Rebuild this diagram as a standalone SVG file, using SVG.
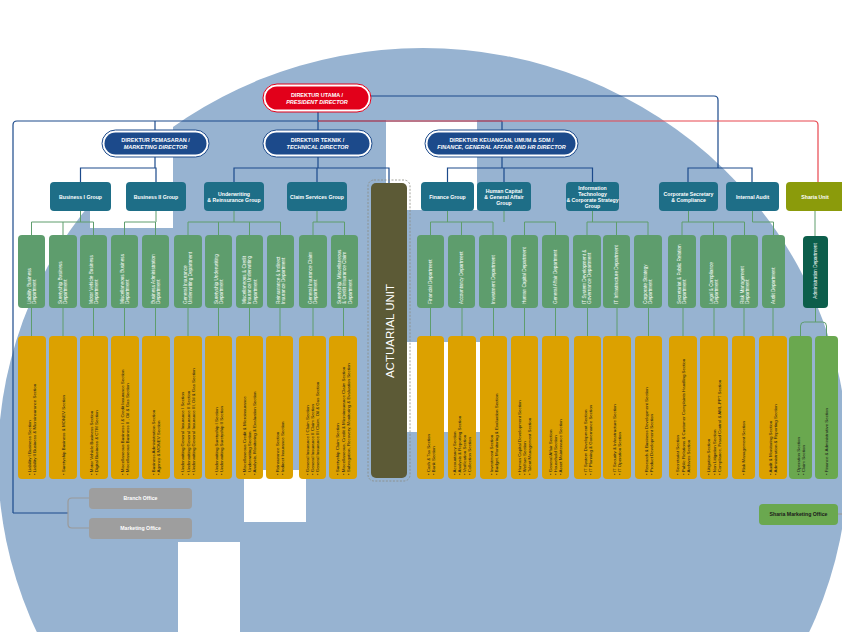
<svg xmlns="http://www.w3.org/2000/svg" width="842" height="632" viewBox="0 0 842 632">
<style>
.t{font-family:"Liberation Sans",Arial,sans-serif}
.dir{fill:#1c4a8b}
.ring{fill:#fff;stroke:#1c4a8b;stroke-width:1}
.red{fill:#e2001a}
.redring{fill:#fff;stroke:#e2001a;stroke-width:1}
.grp{fill:#1e6e87}
.dept{fill:#5e9d6d}
.sec{fill:#dca100}
.ssec{fill:#6aa84f}
.dtxt{font-family:"Liberation Sans",Arial,sans-serif;font-size:5.5px;font-weight:bold;fill:#fff;text-anchor:middle}
.gtxt{font-family:"Liberation Sans",Arial,sans-serif;font-size:5.2px;font-weight:bold;fill:#fff;text-anchor:middle}
.ptxt{font-family:"Liberation Sans",Arial,sans-serif;font-size:4.7px;fill:#fff}
.stxt{font-family:"Liberation Sans",Arial,sans-serif;font-size:4.4px;fill:#1a1a1a}
.blue{fill:none;stroke:#1c4a8b;stroke-width:1.2}
.redl{fill:none;stroke:#e8474f;stroke-width:1.2}
.grn{fill:none;stroke:#5e9d6d;stroke-width:1}
.gry{fill:none;stroke:#9a9a9a;stroke-width:1.2}
</style>
<rect width="842" height="632" fill="#fff"/>
<g id="background">
<ellipse cx="423" cy="460" rx="425" ry="412" fill="#97b3d1"/>
<rect x="90" y="125" width="83" height="103" fill="#fff"/>
<rect x="386" y="120" width="91" height="90" fill="#fff"/>
<rect x="395" y="342" width="85" height="90" fill="#fff"/>
<rect x="244" y="470" width="62" height="52" fill="#fff"/>
<rect x="178" y="542" width="62" height="90" fill="#fff"/>
</g>
<g id="connectors">
<path class="blue" d="M318 112V130M13 513V125Q13 121 17 121H502M155 121V130M502 121V130M13 513H68"/>
<path class="blue" d="M371 96H714Q718 96 718 100V168M688 182V168H752V182"/>
<path class="blue" d="M155 157V168M80.5 182V168H156V182"/>
<path class="blue" d="M318 157V168M234 182V168H389V183M317 168V182"/>
<path class="blue" d="M502 157V168M447.5 182V168H592.5V182M504 168V182"/>
<path class="redl" d="M318 121H814Q818 121 818 125V182"/>
<path class="grn" d="M80.5 211V222M31.5 235V222H93.5V235M63 222V235"/>
<path class="grn" d="M156 211V222M124.5 235V222H155.5V235"/>
<path class="grn" d="M234 211V222M188 235V222H280.5V235M218.5 222V235M249.5 222V235"/>
<path class="grn" d="M317 211V222M313 235V222H344.5V235"/>
<path class="grn" d="M447.5 211V222M430.5 235V222H493V235M461.5 222V235"/>
<path class="grn" d="M504 211V222M524.5 235V222H555.5V235"/>
<path class="grn" d="M592.5 211V222M587 235V222H648V235M616.5 222V235"/>
<path class="grn" d="M688.5 211V222M682 235V222H744.5V235M713.5 222V235"/>
<path class="grn" d="M752.5 211V222H773.5V235"/>
<path class="grn" d="M815 211V236"/>
<path class="grn" d="M31.5 308V336M63 308V336M93.5 308V336M124.5 308V336M155.5 308V336M188 308V336M218.5 308V336M249.5 308V336M280 308V336M313 308V336M343.5 308V336M430.5 308V336M462 308V336M493.5 308V336M524.5 308V336M555.5 308V336M587.5 308V336M617 308V336M648.5 308V336M683 308V336M714 308V336M744 308V336M773 308V336"/>
<path class="grn" d="M815.5 308V322M800.5 336V326Q800.5 322 804.5 322H822.5Q826.5 322 826.5 326V336"/>
<path class="gry" d="M89 498H72Q68 498 68 502V524Q68 528 72 528H89"/>
<path class="gry" d="M838 514H842"/>
</g>
<g id="president">
<rect class="redring" x="263" y="84" width="108" height="28" rx="14"/>
<rect class="red" x="265.5" y="86.5" width="103" height="23" rx="11.5"/>
<text class="dtxt" x="317" y="96.5">DIREKTUR UTAMA /</text>
<text class="dtxt" x="317" y="103.5" font-style="italic">PRESIDENT DIRECTOR</text>
</g>
<g id="marketing-director">
<rect class="ring" x="102" y="130" width="107" height="27" rx="13.5"/>
<rect class="dir" x="104.5" y="132.5" width="102" height="22" rx="11"/>
<text class="dtxt" x="155.5" y="142">DIREKTUR PEMASARAN /</text>
<text class="dtxt" x="155.5" y="149" font-style="italic">MARKETING DIRECTOR</text>
</g>
<g id="technical-director">
<rect class="ring" x="263" y="130" width="109" height="27" rx="13.5"/>
<rect class="dir" x="265.5" y="132.5" width="104" height="22" rx="11"/>
<text class="dtxt" x="317.5" y="142">DIREKTUR TEKNIK /</text>
<text class="dtxt" x="317.5" y="149" font-style="italic">TECHNICAL DIRECTOR</text>
</g>
<g id="finance-director">
<rect class="ring" x="425" y="130" width="153" height="27" rx="13.5"/>
<rect class="dir" x="427.5" y="132.5" width="148" height="22" rx="11"/>
<text class="dtxt" x="501.5" y="142">DIREKTUR KEUANGAN, UMUM &amp; SDM /</text>
<text class="dtxt" x="501.5" y="149" font-style="italic">FINANCE, GENERAL AFFAIR AND HR DIRECTOR</text>
</g>
<g id="groups">
<g id="g-business1"><rect class="grp" x="50" y="182" width="61" height="29" rx="4"/><text class="gtxt" x="80.5" y="198.5">Business I Group</text></g>
<g id="g-business2"><rect class="grp" x="126" y="182" width="60" height="29" rx="4"/><text class="gtxt" x="156" y="198.5">Business II Group</text></g>
<g id="g-underwriting"><rect class="grp" x="204" y="182" width="60" height="29" rx="4"/><text class="gtxt" x="234" y="195.5">Underwriting<tspan x="234" dy="6">&amp; Reinsurance Group</tspan></text></g>
<g id="g-claim"><rect class="grp" x="287" y="182" width="60" height="29" rx="4"/><text class="gtxt" x="317" y="198.5">Claim Services Group</text></g>
<g id="g-finance"><rect class="grp" x="421" y="182" width="53" height="29" rx="4"/><text class="gtxt" x="447.5" y="198.5">Finance Group</text></g>
<g id="g-hc"><rect class="grp" x="477" y="182" width="54" height="29" rx="4"/><text class="gtxt" x="504" y="192.5">Human Capital<tspan x="504" dy="6">&amp; General Affair</tspan><tspan x="504" dy="6">Group</tspan></text></g>
<g id="g-it"><rect class="grp" x="566" y="182" width="53" height="29" rx="4"/><text class="gtxt" x="592.5" y="189.5">Information<tspan x="592.5" dy="6">Technology</tspan><tspan x="592.5" dy="6">&amp; Corporate Strategy</tspan><tspan x="592.5" dy="6">Group</tspan></text></g>
<g id="g-corpsec"><rect class="grp" x="659" y="182" width="59" height="29" rx="4"/><text class="gtxt" x="688.5" y="195.5">Corporate Secretary<tspan x="688.5" dy="6">&amp; Compliance</tspan></text></g>
<g id="g-audit"><rect class="grp" x="726" y="182" width="53" height="29" rx="4"/><text class="gtxt" x="752.5" y="198.5">Internal Audit</text></g>
<g id="g-sharia"><rect x="786" y="182" width="62" height="29" rx="4" fill="#8b9b0b"/><text class="gtxt" x="815" y="198.5">Sharia Unit</text></g>
</g>
<g id="actuarial">
<rect x="368" y="180" width="42" height="301" rx="6" fill="none" stroke="#8a8a80" stroke-width="0.8" stroke-dasharray="2 1.5"/>
<rect x="371" y="183" width="36" height="295" rx="5" fill="#5c5a36"/>
<text class="t" transform="translate(393.5,331) rotate(-90)" font-size="11.5" fill="#fff" text-anchor="middle">ACTUARIAL UNIT</text>
</g>
<g id="departments">
<g><rect class="dept" x="18" y="235" width="27" height="73" rx="4"/><text class="ptxt" transform="translate(31.5,304) rotate(-90)"><tspan x="0" y="-1">Liability Business</tspan><tspan x="0" y="4.4">Department</tspan></text></g>
<g><rect class="dept" x="49" y="235" width="28" height="73" rx="4"/><text class="ptxt" transform="translate(63,304) rotate(-90)"><tspan x="0" y="-1">Suretyship Business</tspan><tspan x="0" y="4.4">Department</tspan></text></g>
<g><rect class="dept" x="80" y="235" width="27" height="73" rx="4"/><text class="ptxt" transform="translate(93.5,304) rotate(-90)"><tspan x="0" y="-1">Motor Vehicle Business</tspan><tspan x="0" y="4.4">Department</tspan></text></g>
<g><rect class="dept" x="111" y="235" width="27" height="73" rx="4"/><text class="ptxt" transform="translate(124.5,304) rotate(-90)"><tspan x="0" y="-1">Miscellaneous Business</tspan><tspan x="0" y="4.4">Department</tspan></text></g>
<g><rect class="dept" x="142" y="235" width="27" height="73" rx="4"/><text class="ptxt" transform="translate(155.5,304) rotate(-90)"><tspan x="0" y="-1">Business Administration</tspan><tspan x="0" y="4.4">Department</tspan></text></g>
<g><rect class="dept" x="174" y="235" width="28" height="73" rx="4"/><text class="ptxt" transform="translate(188,304) rotate(-90)"><tspan x="0" y="-1">General Insurance</tspan><tspan x="0" y="4.4">Underwriting Department</tspan></text></g>
<g><rect class="dept" x="205" y="235" width="27" height="73" rx="4"/><text class="ptxt" transform="translate(218.5,304) rotate(-90)"><tspan x="0" y="-1">Suretyship Underwriting</tspan><tspan x="0" y="4.4">Department</tspan></text></g>
<g><rect class="dept" x="236" y="235" width="27" height="73" rx="4"/><text class="ptxt" transform="translate(249.5,304) rotate(-90)"><tspan x="0" y="-3.7">Miscellaneous &amp; Credit</tspan><tspan x="0" y="1.7">Insurance Underwriting</tspan><tspan x="0" y="7.1">Department</tspan></text></g>
<g><rect class="dept" x="267" y="235" width="27" height="73" rx="4"/><text class="ptxt" transform="translate(280.5,304) rotate(-90)"><tspan x="0" y="-1">Reinsurance &amp; Indirect</tspan><tspan x="0" y="4.4">Insurance Department</tspan></text></g>
<g><rect class="dept" x="299" y="235" width="28" height="73" rx="4"/><text class="ptxt" transform="translate(313,304) rotate(-90)"><tspan x="0" y="-1">General Insurance Claim</tspan><tspan x="0" y="4.4">Department</tspan></text></g>
<g><rect class="dept" x="331" y="235" width="27" height="73" rx="4"/><text class="ptxt" transform="translate(344.5,304) rotate(-90)"><tspan x="0" y="-3.7">Suretyship, Miscellaneous</tspan><tspan x="0" y="1.7">&amp; Credit Insurance Claim</tspan><tspan x="0" y="7.1">Department</tspan></text></g>
<g><rect class="dept" x="417" y="235" width="27" height="73" rx="4"/><text class="ptxt" transform="translate(430.5,304) rotate(-90)"><tspan x="0" y="1.7">Financial Department</tspan></text></g>
<g><rect class="dept" x="448" y="235" width="27" height="73" rx="4"/><text class="ptxt" transform="translate(461.5,304) rotate(-90)"><tspan x="0" y="1.7">Accountancy Department</tspan></text></g>
<g><rect class="dept" x="479" y="235" width="28" height="73" rx="4"/><text class="ptxt" transform="translate(493,304) rotate(-90)"><tspan x="0" y="1.7">Investment Department</tspan></text></g>
<g><rect class="dept" x="511" y="235" width="27" height="73" rx="4"/><text class="ptxt" transform="translate(524.5,304) rotate(-90)"><tspan x="0" y="1.7">Human Capital Department</tspan></text></g>
<g><rect class="dept" x="542" y="235" width="27" height="73" rx="4"/><text class="ptxt" transform="translate(555.5,304) rotate(-90)"><tspan x="0" y="1.7">General Affair Department</tspan></text></g>
<g><rect class="dept" x="573" y="235" width="28" height="73" rx="4"/><text class="ptxt" transform="translate(587,304) rotate(-90)"><tspan x="0" y="-1">IT System Development &amp;</tspan><tspan x="0" y="4.4">Governance Department</tspan></text></g>
<g><rect class="dept" x="603" y="235" width="27" height="73" rx="4"/><text class="ptxt" transform="translate(616.5,304) rotate(-90)"><tspan x="0" y="1.7">IT Infrastructure Department</tspan></text></g>
<g><rect class="dept" x="634" y="235" width="28" height="73" rx="4"/><text class="ptxt" transform="translate(648,304) rotate(-90)"><tspan x="0" y="-1">Corporate Strategy</tspan><tspan x="0" y="4.4">Department</tspan></text></g>
<g><rect class="dept" x="668" y="235" width="28" height="73" rx="4"/><text class="ptxt" transform="translate(682,304) rotate(-90)" font-size="4.2"><tspan x="0" y="-1">Secretariat &amp; Public Relation</tspan><tspan x="0" y="4.4">Department</tspan></text></g>
<g><rect class="dept" x="700" y="235" width="27" height="73" rx="4"/><text class="ptxt" transform="translate(713.5,304) rotate(-90)"><tspan x="0" y="-1">Legal &amp; Compliance</tspan><tspan x="0" y="4.4">Department</tspan></text></g>
<g><rect class="dept" x="731" y="235" width="27" height="73" rx="4"/><text class="ptxt" transform="translate(744.5,304) rotate(-90)"><tspan x="0" y="-1">Risk Management</tspan><tspan x="0" y="4.4">Department</tspan></text></g>
<g><rect class="dept" x="762" y="235" width="23" height="73" rx="4"/><text class="ptxt" transform="translate(773.5,304) rotate(-90)"><tspan x="0" y="1.7">Audit Department</tspan></text></g>
<g><rect x="803" y="236" width="25" height="72" rx="4" fill="#0c5e4b"/><text class="ptxt" transform="translate(815.5,271) rotate(-90)" text-anchor="middle"><tspan x="0" y="1.7">Administration Department</tspan></text></g>
</g>
<g id="sections">
<g><rect class="sec" x="18" y="336" width="28" height="143" rx="4"/><text class="stxt" transform="translate(32,475) rotate(-90)"><tspan x="0" y="-1">• Liability I Business Section</tspan><tspan x="0" y="4.2">• Liability II Business &amp; Microinsurance Section</tspan></text></g>
<g><rect class="sec" x="49" y="336" width="28" height="143" rx="4"/><text class="stxt" transform="translate(63,475) rotate(-90)"><tspan x="0" y="1.6">• Suretyship Business &amp; MONEV Section</tspan></text></g>
<g><rect class="sec" x="80" y="336" width="28" height="143" rx="4"/><text class="stxt" transform="translate(94,475) rotate(-90)"><tspan x="0" y="-1">• Motor Vehicle Business Section</tspan><tspan x="0" y="4.2">• Digital Business &amp; CTM Section</tspan></text></g>
<g><rect class="sec" x="111" y="336" width="28" height="143" rx="4"/><text class="stxt" transform="translate(125,475) rotate(-90)"><tspan x="0" y="-1">• Miscellaneous Business I &amp; Credit Insurance Section</tspan><tspan x="0" y="4.2">• Miscellaneous Business II , Oil &amp; Gas Section</tspan></text></g>
<g><rect class="sec" x="142" y="336" width="28" height="143" rx="4"/><text class="stxt" transform="translate(156,475) rotate(-90)"><tspan x="0" y="-1">• Business Administration Section</tspan><tspan x="0" y="4.2">• Agency &amp; MONEV Section</tspan></text></g>
<g><rect class="sec" x="174" y="336" width="28" height="143" rx="4"/><text class="stxt" transform="translate(188,475) rotate(-90)"><tspan x="0" y="-3.6">• Underwriting General Insurance I Section</tspan><tspan x="0" y="1.6">• Underwriting General Insurance II Section</tspan><tspan x="0" y="6.8">• Underwriting General Insurance III, Oil &amp; Gas Section</tspan></text></g>
<g><rect class="sec" x="205" y="336" width="27" height="143" rx="4"/><text class="stxt" transform="translate(218.5,475) rotate(-90)"><tspan x="0" y="-1">• Underwriting Suretyship I Section</tspan><tspan x="0" y="4.2">• Underwriting Suretyship II Section</tspan></text></g>
<g><rect class="sec" x="236" y="336" width="27" height="143" rx="4"/><text class="stxt" transform="translate(249.5,475) rotate(-90)"><tspan x="0" y="-3.6">• Miscellaneous Credit &amp; Microinsurance</tspan><tspan x="3" y="1.6">Underwriting Section</tspan><tspan x="0" y="6.8">• Analysis, Monitoring &amp; Evaluation Section</tspan></text></g>
<g><rect class="sec" x="266" y="336" width="27" height="143" rx="4"/><text class="stxt" transform="translate(279.5,475) rotate(-90)"><tspan x="0" y="-1">• Reinsurance Section</tspan><tspan x="0" y="4.2">• Indirect Insurance Section</tspan></text></g>
<g><rect class="sec" x="299" y="336" width="27" height="143" rx="4"/><text class="stxt" transform="translate(312.5,475) rotate(-90)"><tspan x="0" y="-3.6">• General Insurance I Claim Section</tspan><tspan x="0" y="1.6">• General Insurance II Claim Section</tspan><tspan x="0" y="6.8">• General Insurance III Claim, Oil &amp; Gas Section</tspan></text></g>
<g><rect class="sec" x="329" y="336" width="28" height="143" rx="4"/><text class="stxt" transform="translate(343,475) rotate(-90)"><tspan x="0" y="-3.6">• Suretyship Claim Section</tspan><tspan x="0" y="1.6">• Miscellaneous, Credit &amp; Microinsurance Claim Section</tspan><tspan x="0" y="6.8">• Subrogation, Recovery, Monitoring &amp; Evaluation Section</tspan></text></g>
<g><rect class="sec" x="417" y="336" width="27" height="143" rx="4"/><text class="stxt" transform="translate(430.5,475) rotate(-90)"><tspan x="0" y="-1">• Cash &amp; Tax Section</tspan><tspan x="0" y="4.2">• Bank Section</tspan></text></g>
<g><rect class="sec" x="448" y="336" width="28" height="143" rx="4"/><text class="stxt" transform="translate(462,475) rotate(-90)"><tspan x="0" y="-6.2">• Accountancy Section</tspan><tspan x="0" y="-1">• Analysis &amp; Reporting Section</tspan><tspan x="0" y="4.2">• Verification Section</tspan><tspan x="0" y="9.4">• Collection Section</tspan></text></g>
<g><rect class="sec" x="480" y="336" width="27" height="143" rx="4"/><text class="stxt" transform="translate(493.5,475) rotate(-90)"><tspan x="0" y="-1">• Investment Section</tspan><tspan x="0" y="4.2">• Budget, Monitoring &amp; Evaluation Section</tspan></text></g>
<g><rect class="sec" x="511" y="336" width="27" height="143" rx="4"/><text class="stxt" transform="translate(524.5,475) rotate(-90)"><tspan x="0" y="-3.6">• Human Capital Development Section</tspan><tspan x="0" y="1.6">• Welfare Section</tspan><tspan x="0" y="6.8">• Talent Management Section</tspan></text></g>
<g><rect class="sec" x="542" y="336" width="27" height="143" rx="4"/><text class="stxt" transform="translate(555.5,475) rotate(-90)"><tspan x="0" y="-3.6">• General Affair Section</tspan><tspan x="0" y="1.6">• Household Section</tspan><tspan x="0" y="6.8">• Asset Maintenance Section</tspan></text></g>
<g><rect class="sec" x="574" y="336" width="27" height="143" rx="4"/><text class="stxt" transform="translate(587.5,475) rotate(-90)"><tspan x="0" y="-1">• IT System Development Section</tspan><tspan x="0" y="4.2">• IT Planning &amp; Governance Section</tspan></text></g>
<g><rect class="sec" x="603" y="336" width="28" height="143" rx="4"/><text class="stxt" transform="translate(617,475) rotate(-90)"><tspan x="0" y="-1">• IT Security &amp; Infrastructure Section</tspan><tspan x="0" y="4.2">• IT Operation Section</tspan></text></g>
<g><rect class="sec" x="635" y="336" width="27" height="143" rx="4"/><text class="stxt" transform="translate(648.5,475) rotate(-90)"><tspan x="0" y="-1">• Research &amp; Business Development Section</tspan><tspan x="0" y="4.2">• Product Development Section</tspan></text></g>
<g><rect class="sec" x="669" y="336" width="28" height="143" rx="4"/><text class="stxt" transform="translate(683,475) rotate(-90)"><tspan x="0" y="-3.6">• Secretariat Section</tspan><tspan x="0" y="1.6">• Public Relations &amp; Customer Complaints Handling Section</tspan><tspan x="0" y="6.8">• Archives Section</tspan></text></g>
<g><rect class="sec" x="700" y="336" width="28" height="143" rx="4"/><text class="stxt" transform="translate(714,475) rotate(-90)"><tspan x="0" y="-3.6">• Litigation Section</tspan><tspan x="0" y="1.6">• Non Litigation Section</tspan><tspan x="0" y="6.8">• Compliance, Fraud Control &amp; AML-PPT Section</tspan></text></g>
<g><rect class="sec" x="732" y="336" width="23" height="143" rx="4"/><text class="stxt" transform="translate(743.5,475) rotate(-90)"><tspan x="0" y="1.6">• Risk Management Section</tspan></text></g>
<g><rect class="sec" x="759" y="336" width="28" height="143" rx="4"/><text class="stxt" transform="translate(773,475) rotate(-90)"><tspan x="0" y="-1">• Audit &amp; Monitoring Section</tspan><tspan x="0" y="4.2">• Administration &amp; Reporting Section</tspan></text></g>
<g><rect class="ssec" x="789" y="336" width="23" height="143" rx="4"/><text class="stxt" transform="translate(800.5,475) rotate(-90)"><tspan x="0" y="-1">• Operation Section</tspan><tspan x="0" y="4.2">• Claim Section</tspan></text></g>
<g><rect class="ssec" x="815" y="336" width="23" height="143" rx="4"/><text class="stxt" transform="translate(826.5,475) rotate(-90)"><tspan x="0" y="1.6">• Finance &amp; Administrative Section</tspan></text></g>
</g>
<g id="offices">
<g id="branch-office"><rect x="89" y="488" width="103" height="21" rx="4" fill="#9e9e9e"/><text class="gtxt" x="140.5" y="500.3" font-weight="normal">Branch Office</text></g>
<g id="marketing-office"><rect x="89" y="518" width="103" height="21" rx="4" fill="#9e9e9e"/><text class="gtxt" x="140.5" y="530.3" font-weight="normal">Marketing Office</text></g>
<g id="sharia-marketing-office"><rect x="759" y="504" width="79" height="21" rx="4" fill="#6aa84f"/><text class="gtxt" x="798.5" y="516.3" style="fill:#1a1a1a">Sharia Marketing Office</text></g>
</g>
</svg>
